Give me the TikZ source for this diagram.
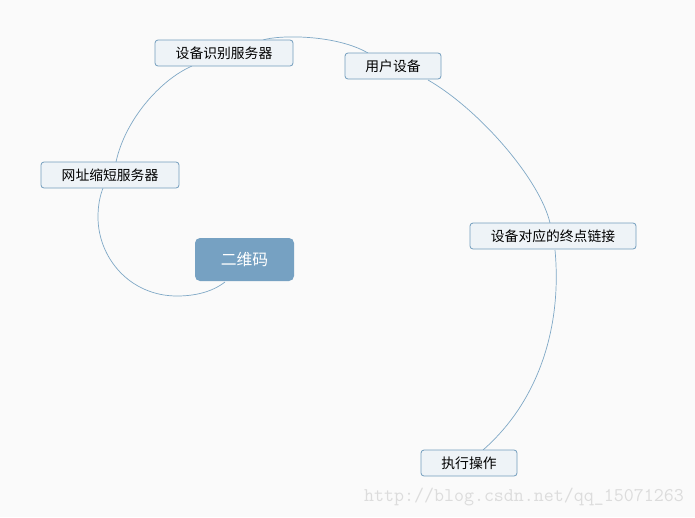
\documentclass[tikz,border=0pt]{standalone}
\usepackage{fontspec}
\newfontfamily\cjk{Noto Sans CJK SC}
\definecolor{bg}{HTML}{FAFAFA}
\definecolor{boxfill}{HTML}{EEF3F7}
\definecolor{boxline}{HTML}{729DBD}
\definecolor{rootfill}{HTML}{76A1C2}
\definecolor{linkc}{HTML}{7FA8C6}
\definecolor{wmark}{HTML}{DCDCDC}
\begin{document}
\begin{tikzpicture}[x=1pt,y=-1pt,
  topic/.style={draw=boxline, line width=0.8pt, fill=boxfill, rounded corners=3pt,
    minimum height=26pt, inner sep=0pt, font=\cjk\fontsize{13.8}{16}\selectfont, text=black},
  root/.style={fill=rootfill, rounded corners=5pt, minimum width=99pt, minimum height=43pt,
    inner sep=0pt, font=\cjk\fontsize{15.8}{18}\selectfont, text=white},
  link/.style={draw=linkc, line width=0.7pt}]
\fill[bg] (0,0) rectangle (695,517);
\useasboundingbox (0,0) rectangle (695,517);
% connectors (behind nodes)
\coordinate (c1) at (225,282);
\coordinate (c2) at (103,188);
\coordinate (c3) at (116,162);
\coordinate (c4) at (192,66);
\coordinate (c5) at (263,40);
\coordinate (c6) at (368,53);
\coordinate (c7) at (428,80);
\coordinate (c8) at (550,223);
\coordinate (c9) at (555,250);
\coordinate (c10) at (483,450);
\draw[link] (c1) .. controls (212,292) and (195,296) .. (177,296)
  .. controls (130,296) and (98,258) .. (98,217)
  .. controls (98,205) and (100,196) .. (c2);
\draw[link] (c3) .. controls (125,120) and (160,80) .. (c4);
\draw[link] (c5) .. controls (278,35) and (335,34) .. (c6);
\draw[link] (c7) .. controls (480,110) and (540,180) .. (c8);
\draw[link] (c9) .. controls (562,325) and (540,400) .. (c10);
% nodes
\node[topic, minimum width=138pt] (sbsb) at (224,53) {设备识别服务器};
\node[topic, minimum width=96pt] (yhsb) at (393,66) {用户设备};
\node[topic, minimum width=138pt] (wzsd) at (110,175) {网址缩短服务器};
\node[root] (ewm) at (244.5,259.5) {二维码};
\node[topic, minimum width=166pt] (zdlj) at (553,236) {设备对应的终点链接};
\node[topic, minimum width=96pt] (zxcz) at (469,463) {执行操作};
\node[text=wmark, font=\ttfamily\fontsize{19.4}{20}\selectfont, anchor=east, inner sep=0pt] (wm) at (684,497) {http://blog.csdn.net/qq\_15071263};
\end{tikzpicture}
\end{document}
